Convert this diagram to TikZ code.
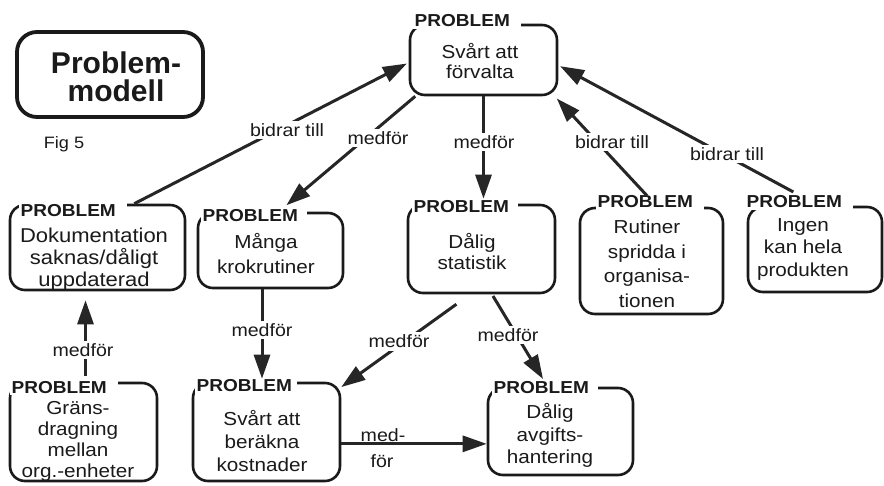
\documentclass[tikz,border=0pt]{standalone}
\usepackage{fontspec}
\setmainfont{Liberation Sans}
\newfontfamily\widesans[FakeStretch=1.1]{Liberation Sans}
\usetikzlibrary{arrows.meta}
\definecolor{ink}{HTML}{1A1A1A}
\definecolor{arrowgray}{HTML}{262626}

\begin{document}
\begin{tikzpicture}[x=1pt,y=-1pt,
  pbox/.style={draw=ink, line width=2.6pt, rounded corners=15pt, inner sep=0pt},
  tag/.style={fill=white, anchor=west, inner sep=1.5pt, text=ink,
    font=\widesans\bfseries\fontsize{17.3}{18}\selectfont},
  body/.style={align=center, text=ink, inner sep=0pt,
    font=\widesans\fontsize{18.8}{#1}\selectfont},
  body/.default=22,
  lbl/.style={fill=white, inner sep=2.5pt, text=ink,
    font=\widesans\fontsize{17.8}{20}\selectfont},
  arr/.style={draw=arrowgray, line width=3pt, -{Triangle[length=24pt,width=16pt]}},
]
\useasboundingbox (0,0) rectangle (884,485);
\fill[white] (0,0) rectangle (884,485);

% title block
\node[pbox, line width=3.8pt, rounded corners=20pt, minimum width=186pt, minimum height=85pt] (M) at (110,74.5) {};
\node[align=center, text=ink, font=\bfseries\fontsize{30}{28.5}\selectfont] (Mt) at (116,77) {Problem-\\modell};
\node[text=ink, font=\widesans\fontsize{16.5}{18}\selectfont] (fig) at (64,144) {Fig 5};

% problem boxes
\node[pbox, minimum width=147pt, minimum height=70pt] (A) at (483.5,60) {};
\node[pbox, minimum width=175pt, minimum height=85pt] (B) at (97.5,247.5) {};
\node[pbox, minimum width=145pt, minimum height=75pt] (C) at (270.5,250.5) {};
\node[pbox, minimum width=147pt, minimum height=88pt] (D) at (481.5,249) {};
\node[pbox, minimum width=143pt, minimum height=106pt] (E) at (651.5,261) {};
\node[pbox, minimum width=134pt, minimum height=85pt] (F) at (815,249.5) {};
\node[pbox, minimum width=147pt, minimum height=98pt] (G) at (83.5,432) {};
\node[pbox, minimum width=147pt, minimum height=98pt] (H) at (266.5,432) {};
\node[pbox, minimum width=145pt, minimum height=87pt] (I) at (560.5,431.5) {};

% PROBLEM headings, masking the top-left of each frame
\node[tag] (A-tag) at (413,21) {PROBLEM\hspace*{10pt}};
\node[tag] (B-tag) at (19,211) {PROBLEM\hspace*{10pt}};
\node[tag] (C-tag) at (201,216) {PROBLEM\hspace*{8pt}};
\node[tag] (D-tag) at (412,207) {PROBLEM\hspace*{8pt}};
\node[tag] (E-tag) at (596,202) {PROBLEM\hspace*{10pt}};
\node[tag] (F-tag) at (745,202) {PROBLEM\hspace*{10pt}};
\node[tag] (G-tag) at (10,387.5) {PROBLEM\hspace*{10pt}};
\node[tag] (H-tag) at (195,386) {PROBLEM\hspace*{4pt}};
\node[tag] (I-tag) at (492,388) {PROBLEM\hspace*{8pt}};

% box texts
\node[body=20] (A-txt) at (480,61) {Svårt att\\förvalta};
\node[body, font=\widesans\fontsize{20}{22}\selectfont] (B-txt) at (94,259) {Dokumentation\\saknas/dåligt\\uppdaterad};
\node[body=25] (C-txt) at (266,254) {Många\\krokrutiner};
\node[body=21] (D-txt) at (472,251.5) {Dålig\\statistik};
\node[body=24.5] (E-txt) at (647,264) {Rutiner\\spridda i\\organisa-\\tionen};
\node[body=22.5] (F-txt) at (803,249) {Ingen\\kan hela\\produkten};
\node[body=21] (G-txt) at (78,441) {Gräns-\\dragning\\mellan\\org.-enheter};
\node[body=23] (H-txt) at (262,441.5) {Svårt att\\beräkna\\kostnader};
\node[body=22.5] (I-txt) at (550,435.5) {Dålig\\avgifts-\\hantering};

% connectors
\draw[arr, shorten >=2pt] (B.50) -- (A.182);
\draw[arr, shorten >=10pt] (A.208) -- (C.78);
\draw[arr, shorten >=5pt] (A.south) -- (A.south |- D.north);
\draw[arr, shorten <=15pt, shorten >=3pt] (E.84) -- (A.333);
\draw[arr, shorten <=29pt, shorten >=2pt] (F.85) -- (A.356);
\draw[arr, shorten <=6pt, shorten >=9pt] ([xshift=2pt]G.north) -- ([xshift=2pt]G.north |- B.south);
\draw[arr, shorten >=3pt] ([xshift=-8.5pt]C.south) -- ([xshift=-8.5pt]C.south |- H.north);
\draw[arr, shorten <=17pt] (D.256) -- (H.31);
\draw[arr, shorten <=2pt, shorten >=9pt] (D.283) -- (I.106);
\draw[arr] (H.351) -- (H.351 -| I.west);

% connector labels
\node[lbl] (l-BA) at (287,130) {bidrar till};
\node[lbl] (l-AC) at (378,138) {medför};
\node[lbl] (l-AD) at (484,142) {medför};
\node[lbl] (l-EA) at (612,142) {bidrar till};
\node[lbl] (l-FA) at (727,154) {bidrar till};
\node[lbl] (l-GB) at (83,350) {medför};
\node[lbl] (l-CH) at (262,330) {medför};
\node[lbl] (l-DH) at (399,341.5) {medför};
\node[lbl] (l-DI) at (508,335) {medför};
\node[lbl, fill=none] (l-HI1) at (383,435.5) {med-};
\node[lbl, fill=none] (l-HI2) at (382,461) {för};
\end{tikzpicture}
\end{document}
